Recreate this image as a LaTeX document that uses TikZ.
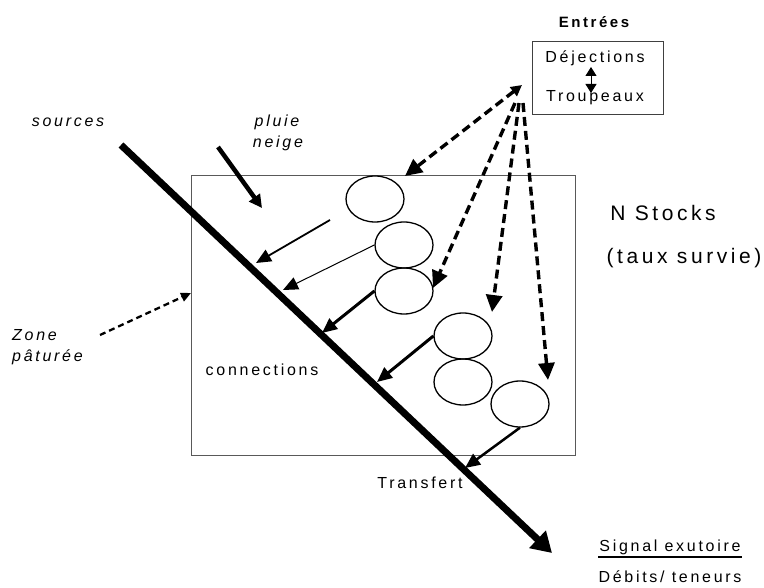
\documentclass[tikz,border=0pt]{standalone}
\usepackage{fontspec}
\setmainfont[LetterSpace=17]{Liberation Sans}
\usetikzlibrary{arrows.meta,shapes.geometric,calc}

\begin{document}
\begin{tikzpicture}[x=1pt,y=-1pt,
  txt/.style={font=\fontsize{16}{18}\selectfont, inner sep=0pt},
  itxt/.style={font=\fontsize{16}{18}\selectfont\itshape, inner sep=0pt},
  bigtxt/.style={font=\fontsize{21}{24}\selectfont, inner sep=0pt},
  stock/.style={ellipse, draw, line width=1.3pt, minimum width=58pt, minimum height=46pt, inner sep=0pt},
  frame/.style={draw=black!65, line width=1pt, inner sep=0pt, outer sep=0pt},
  bigtip/.style={-{Triangle[length=17pt,width=16pt]}},
  dasharrow/.style={line width=3.4pt, dash pattern=on 9pt off 5pt, bigtip},
  flow/.style={-{Triangle[length=15pt,width=13pt]}},
]
\useasboundingbox (0,0) rectangle (764,588);

% catchment zone and input box
\node[frame, minimum width=384pt, minimum height=279pt] (zone) at (383,315.5) {};
\node[frame, draw=black!75, minimum width=131pt, minimum height=73pt] (inbox) at (597.5,78.5) {};
\node[font=\fontsize{15}{17}\selectfont\bfseries, inner sep=0pt] (entrees) at (594,22) {Entrées};
\node[txt] (dej) at (595,58) {Déjections};
\node[txt] (trou) at (595,98) {Troupeaux};
\coordinate (dtop) at (591,67);
\coordinate (dbot) at (591,93);
\draw[line width=1pt, {Triangle[length=9pt,width=11pt]}-{Triangle[length=9pt,width=11pt]}] (dtop) -- (dbot);

% N stocks
\node[stock] (e1) at (375,199) {};
\node[stock] (e2) at (404,245) {};
\node[stock] (e3) at (404,291) {};
\node[stock] (e4) at (463,336) {};
\node[stock] (e5) at (463,382) {};
\node[stock] (e6) at (520,404) {};

% main flow line from sources to the outlet
\coordinate (src) at (121,145);
\coordinate (out) at (552,553);
\draw[line width=7pt, -{Triangle[length=20pt,width=23pt]}] (src) -- (out);

% rain / snow input
\coordinate (rain) at (218,147);
\coordinate (rainend) at (262,208);
\draw[line width=4.5pt, -{Triangle[length=13pt,width=13pt]}] (rain) -- (rainend);

% transfers towards the main flow
\coordinate (a1s) at (330,220);
\coordinate (a1e) at (256,263);
\coordinate (a2e) at (283,290);
\coordinate (a3e) at (322,333);
\coordinate (a4e) at (377,382);
\coordinate (a5e) at (465,468);
\draw[flow, line width=1.8pt] (a1s) -- (a1e);
\draw[flow, line width=1pt] (e2.west) -- (a2e);
\draw[flow, line width=3pt] (e3.west) -- (a3e);
\draw[flow, line width=3pt] (e4.west) -- (a4e);
\draw[flow, line width=2.5pt] (e6.south) -- (a5e);

% inputs distributed to the stocks
\coordinate (d1s) at (522,85);
\coordinate (d1e) at (405,176);
\coordinate (d2s) at (515,103);
\coordinate (d2e) at (433,288);
\coordinate (d3s) at (519,103);
\coordinate (d3e) at (492,312);
\coordinate (d4s) at (523,103);
\coordinate (d4e) at (548,380);
\draw[dasharrow, {Triangle[length=11pt,width=11pt]}-{Triangle[length=17pt,width=16pt]}] (d1s) -- (d1e);
\draw[dasharrow] (d2s) -- (d2e);
\draw[dasharrow] (d3s) -- (d3e);
\draw[dasharrow] (d4s) -- (d4e);

% grazed area
\coordinate (zp) at (100,335);
\draw[line width=2.3pt, dash pattern=on 6pt off 4pt, -{Triangle[length=10pt,width=9pt]}] (zp) -- (zone.west |- 0,293);

% labels
\node[itxt] (sources) at (68,122) {sources};
\node[itxt] (pluie) at (277,122) {pluie};
\node[itxt] (neige) at (278,143) {neige};
\node[itxt, anchor=west] (zone1) at (12,335) {Zone};
\node[itxt, anchor=west] (zone2) at (12,357) {pâturée};
\node[txt] (conn) at (262,370) {connections};
\node[bigtxt] (nst) at (663,213) {N Stocks};
\node[bigtxt] (taux) at (684,258) {(taux survie)};
\node[txt] (transf) at (420,483) {Transfert};
\node[txt, inner xsep=1pt, inner ysep=2pt] (sig) at (670,547) {Signal exutoire};
\draw[line width=1.8pt] (sig.south west) -- (sig.south east);
\node[txt] (deb) at (670,577) {Débits/ teneurs};
\end{tikzpicture}
\end{document}
